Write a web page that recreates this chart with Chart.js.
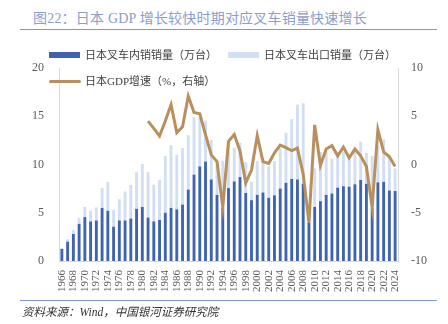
<!DOCTYPE html>
<html>
<head>
<meta charset="utf-8">
<script src="https://cdn.jsdelivr.net/npm/chart.js@4.4.1/dist/chart.umd.min.js"></script>
<style>
    html, body { margin: 0; padding: 0; background: #fff; }
    #wrap { position: relative; width: 448px; height: 324px; overflow: hidden; font-family: 'Liberation Serif', 'Noto Sans CJK SC', serif; }
    #title { position: absolute; left: 33px; top: 7px; font-size: 14px; color: #8a9dcb; white-space: nowrap; letter-spacing: 0.2px; }
    .rule { position: absolute; left: 20px; width: 417px; height: 1px; background: #7f98cc; }
    #source { position: absolute; left: 22px; top: 303px; font-size: 11.5px; font-style: italic; color: #333; white-space: nowrap; }
    #chart { position: absolute; left: 0; top: 0; }
    .leg { position: absolute; font-size: 11px; color: #404040; white-space: nowrap; line-height: 14px; }
    .sw { position: absolute; }
</style>
</head>
<body>
<div id="wrap">
    <div id="title">图22：日本 GDP 增长较快时期对应叉车销量快速增长</div>
    <div class="rule" style="top:29px"></div>
    <canvas id="chart" width="448" height="324"></canvas>
    <div id="legend"></div>
    <div class="rule" style="top:300px"></div>
    <div id="source">资料来源：Wind，中国银河证券研究院</div>
</div>
<script>
// 1966-2024
const years = [];
for (let y = 1966; y <= 2024; y++) years.push(String(y));

// domestic forklift sales, 10k units
const domestic = [
    1.25, 2.0, 2.8, 3.85, 4.55, 4.1, 4.2, 5.5, 5.2, 3.55,
    4.2, 4.2, 4.4, 5.4, 5.6, 4.5, 4.1, 4.25, 5.0, 5.5,
    5.35, 5.85, 7.4, 8.95, 9.8, 10.3, 8.45, 6.85, 5.5, 7.55,
    8.25, 8.7, 7.05, 6.3, 6.85, 7.1, 6.55, 6.8, 7.5, 8.1,
    8.5, 8.45, 8.0, 4.0, 5.6, 6.2, 6.85, 7.0, 7.6, 7.75,
    7.7, 7.95, 8.4, 8.0, 5.5, 8.15, 8.2, 7.3, 7.25
];

// export forklift sales, 10k units (stacked on domestic)
const exports = [
    0.1, 0.25, 0.4, 0.6, 1.05, 1.1, 1.35, 2.05, 3.0, 1.75,
    2.2, 3.0, 3.5, 3.8, 4.45, 4.7, 3.8, 4.15, 5.9, 6.5,
    5.65, 5.85, 5.65, 5.95, 5.0, 4.25, 4.1, 3.5, 4.9, 4.95,
    3.5, 3.55, 3.2, 1.9, 3.5, 3.1, 3.25, 3.55, 4.2, 5.2,
    6.2, 7.75, 8.35, 1.6, 4.0, 5.1, 4.55, 3.6, 3.7, 3.55,
    3.1, 3.35, 3.95, 3.2, 5.4, 3.85, 4.4, 3.7, 2.35
];

// Japan GDP growth %, 1981-2024 (no values before 1981)
const gdp = [
    null, null, null, null, null, null, null, null, null, null,
    null, null, null, null, null,
    4.5, 3.75, 2.95, 4.5, 6.2, 3.3, 3.9, 7.1, 5.4, 5.25,
    3.1, 1.0, 0.3, -4.4, 2.4, 3.1, 1.4, -1.9, -0.57, 3.0,
    0.3, 0.1, 1.2, 2.0, 1.75, 1.43, 1.7, -1.0, -6.0, 4.1,
    -0.1, 1.6, 1.95, 0.9, 1.8, 0.7, 1.6, 0.9, -0.2, -4.4,
    3.6, 1.3, 0.8, -0.2
];

const leftTicks = [0, 5, 10, 15, 20];
const rightTicks = [-10, -5, 0, 5, 10];

const DARK = '#3e63b1';
const LIGHT = '#d2def2';
const GOLD = '#b8905d';
const tickFont = { family: "'Liberation Serif', serif", size: 12 };

const chart = new Chart(document.getElementById('chart').getContext('2d'), {
    data: {
        labels: years,
        datasets: [
            {
                type: 'line',
                label: '日本GDP增速（%，右轴）',
                data: gdp,
                yAxisID: 'y1',
                borderColor: GOLD,
                backgroundColor: GOLD,
                borderWidth: 3,
                pointRadius: 0,
                tension: 0,
                order: 0
            },
            {
                type: 'bar',
                label: '日本叉车内销销量（万台）',
                data: domestic,
                backgroundColor: DARK,
                yAxisID: 'y',
                stack: 'sales',
                categoryPercentage: 1,
                barPercentage: 0.5,
                order: 1
            },
            {
                type: 'bar',
                label: '日本叉车出口销量（万台）',
                data: exports,
                backgroundColor: LIGHT,
                yAxisID: 'y',
                stack: 'sales',
                categoryPercentage: 1,
                barPercentage: 0.5,
                order: 1
            }
        ]
    },
    options: {
        responsive: false,
        animation: false,
        layout: { padding: { top: 68, left: 0, right: 0, bottom: 0 } },
        plugins: {
            legend: { display: false },
            tooltip: { enabled: false }
        },
        scales: {
            x: {
                stacked: true,
                grid: { display: false, drawTicks: false },
                border: { color: '#d9d9d9' },
                afterFit: (s) => { s.height = 63; },
                ticks: {
                    autoSkip: false,
                    minRotation: 90,
                    maxRotation: 90,
                    padding: 9,
                    color: '#595959',
                    font: { family: "'Liberation Serif', serif", size: 11 },
                    callback: (v, i) => (i % 2 === 0 ? years[i] : '')
                }
            },
            y: {
                position: 'left',
                stacked: true,
                min: leftTicks[0],
                max: leftTicks[leftTicks.length - 1],
                grid: { display: false, drawTicks: false },
                border: { color: '#d9d9d9' },
                afterFit: (s) => { s.width = 59; },
                afterBuildTicks: (s) => { s.ticks = leftTicks.map(v => ({ value: v })); },
                ticks: { padding: 15, color: '#595959', font: tickFont }
            },
            y1: {
                position: 'right',
                min: rightTicks[0],
                max: rightTicks[rightTicks.length - 1],
                grid: { display: false, drawTicks: false },
                border: { color: '#d9d9d9' },
                afterFit: (s) => { s.width = 50; },
                afterBuildTicks: (s) => { s.ticks = rightTicks.map(v => ({ value: v })); },
                ticks: { padding: 13, color: '#595959', font: tickFont }
            }
        }
    }
});

// html legend, two rows like the report layout
const legendSpots = [
    { ds: 1, x: 49, y: 55 },
    { ds: 2, x: 228, y: 55 },
    { ds: 0, x: 49, y: 81 }
];
const legendEl = document.getElementById('legend');
legendSpots.forEach(({ ds, x, y }) => {
    const d = chart.data.datasets[ds];
    const sw = document.createElement('div');
    sw.className = 'sw';
    if (d.type === 'line') {
        Object.assign(sw.style, { left: x + 'px', top: (y - 1.5) + 'px', width: '32px', height: '3px', background: d.borderColor, borderRadius: '2px' });
    } else {
        Object.assign(sw.style, { left: x + 'px', top: (y - 3) + 'px', width: '31px', height: '6px', background: d.backgroundColor });
    }
    const tx = document.createElement('div');
    tx.className = 'leg';
    tx.textContent = d.label;
    Object.assign(tx.style, { left: (x + 36) + 'px', top: (y - 7.5) + 'px' });
    legendEl.appendChild(sw);
    legendEl.appendChild(tx);
});
</script>
</body>
</html>
